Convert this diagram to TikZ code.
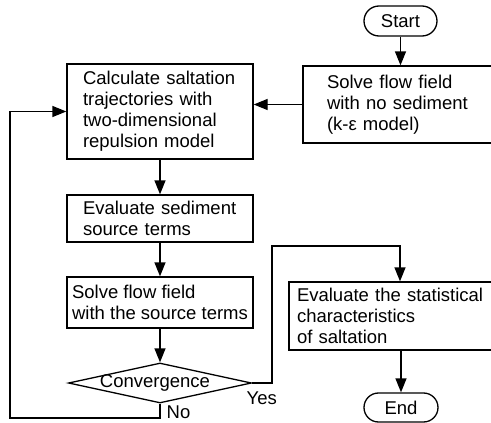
\documentclass[tikz,border=0pt]{standalone}
\usepackage{fontspec}
\setmainfont{Liberation Sans}
\usetikzlibrary{shapes.misc,shapes.geometric,arrows.meta}
\begin{document}
\begin{tikzpicture}[x=1pt,y=-1pt,
  line width=1.3pt,
  every node/.style={font=\fontsize{18.5}{21}\selectfont},
  box/.style={draw,rectangle,inner ysep=0pt,align=left},
  term/.style={draw,rounded rectangle,inner sep=0pt},
  arr/.style={-{Triangle[length=14pt,width=11pt]}},
  lbl/.style={inner sep=0pt}
]
\useasboundingbox (0,0) rectangle (491,423);
\node[term,minimum width=73pt,minimum height=30pt] (start) at (400.5,21) {Start};
\node[box,minimum width=190pt,minimum height=77pt,text width=142pt,inner xsep=24pt] (solve1) at (398,104.5)
  {Solve flow field\\with no sediment\\(k-ε model)};
\node[box,minimum width=186pt,minimum height=95pt,text width=154pt,inner xsep=16pt] (calc) at (160,111.5)
  {Calculate saltation\\trajectories with\\two-dimensional\\repulsion model};
\node[box,minimum width=186pt,minimum height=47pt,text width=154pt,inner xsep=16pt] (eval1) at (160,218.5)
  {Evaluate sediment\\source terms};
\node[box,minimum width=186pt,minimum height=51pt,inner xsep=5pt] (solve2) at (160,302.5)
  {Solve flow field\\with the source terms};
\node[draw,diamond,minimum width=183pt,minimum height=40pt,inner sep=0pt] (conv) at (160,383) {};
\node[lbl] (convt) at (155,383) {Convergence};
\node[box,minimum width=204pt,minimum height=68pt,text width=188pt,inner xsep=8pt] (stats) at (391,316)
  {Evaluate the statistical\\characteristics\\of saltation};
\node[term,minimum width=74pt,minimum height=29pt] (end) at (401,407.5) {End};
\node[lbl,anchor=west] (no) at (166,412) {No};
\node[lbl,anchor=west] (yes) at (246,398) {Yes};
\coordinate (loopL) at (10,418);
\coordinate (yesC) at (272,246);
\coordinate (yesT) at (400,246);

\draw[arr] (start.south) -- (start.south |- solve1.north);
\draw[arr] (solve1.west) -- (calc.east |- solve1.west);
\draw[arr] (calc.south) -- (eval1.north);
\draw[arr] (eval1.south) -- (solve2.north);
\draw[arr] (solve2.south) -- (conv.north);
\draw[arr] (conv.south) |- (loopL) |- (calc.west);
\draw[arr] (conv.east) -| (yesC) -- (yesT) -- (yesT |- stats.north);
\draw[arr] (end.north |- stats.south) -- (end.north);
\end{tikzpicture}
\end{document}
